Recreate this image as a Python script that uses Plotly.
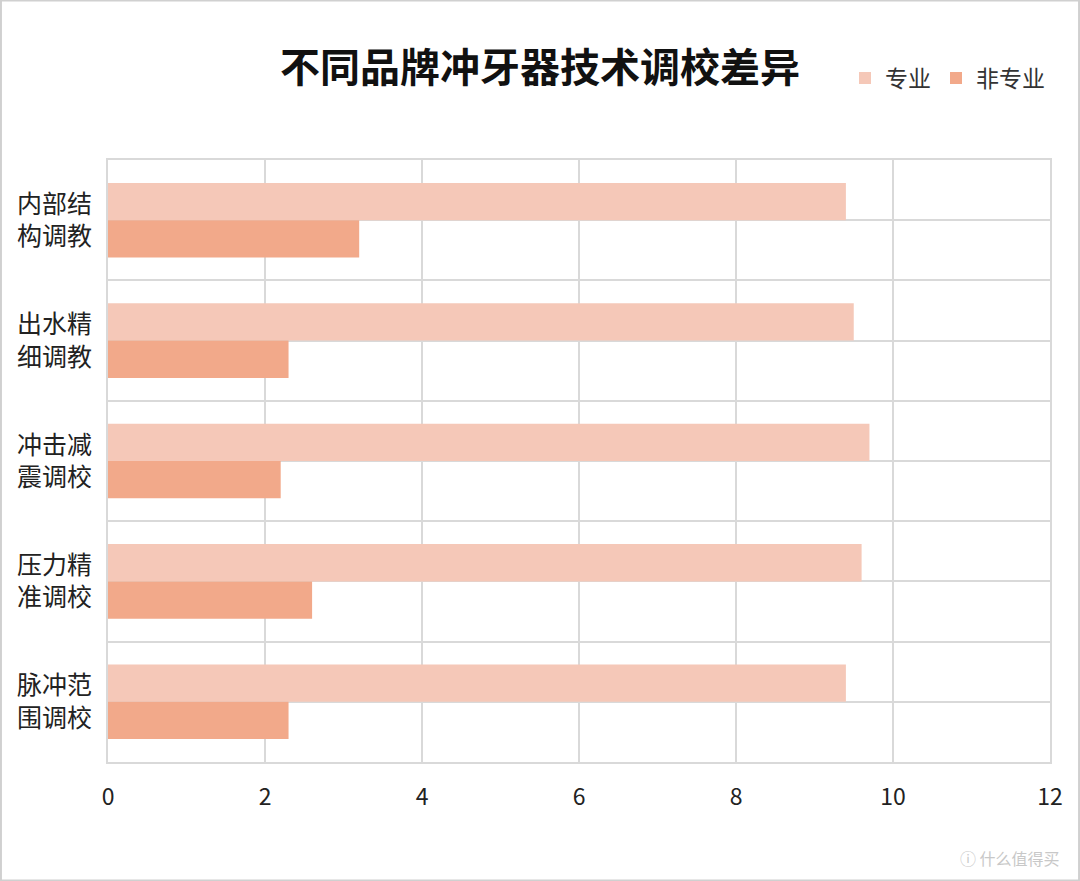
import plotly.graph_objects as go

categories = ["内部结<br>构调教", "出水精<br>细调教", "冲击减<br>震调校", "压力精<br>准调校", "脉冲范<br>围调校"]
pro_values = [9.4, 9.5, 9.7, 9.6, 9.4]
amateur_values = [3.2, 2.3, 2.2, 2.6, 2.3]
series_names = ["专业", "非专业"]
x_ticks = [0, 2, 4, 6, 8, 10, 12]

FONT = "Noto Sans CJK SC"
GRID = "#d9d9d9"

# plot area in pixels, used to place page-level decorations
W, H = 1080, 881
L, R, T, B = 108, 30, 160, 119
pw, ph = W - L - R, H - T - B

fig = go.Figure()

fig.add_trace(go.Bar(
    y=categories, x=pro_values, orientation="h",
    name=series_names[0], marker=dict(color="#F5C8B8", line_width=0),
))
fig.add_trace(go.Bar(
    y=categories, x=amateur_values, orientation="h",
    name=series_names[1], marker=dict(color="#F2A98A", line_width=0),
))

fig.update_layout(
    width=W, height=H,
    margin=dict(l=L, r=R, t=T, b=B),
    paper_bgcolor="white",
    plot_bgcolor="white",
    barmode="group",
    bargap=0.38,
    bargroupgap=0,
    font=dict(family=FONT, color="#222222"),
    title=dict(
        text="<b>不同品牌冲牙器技术调校差异</b>",
        x=0.5, xref="container", xanchor="center",
        y=1 - 68 / H, yref="container", yanchor="middle",
        font=dict(size=40, color="#111111", family=FONT),
    ),
    legend=dict(
        orientation="h",
        x=1.0, xanchor="right",
        y=1 + (T - 78) / ph, yanchor="middle",
        font=dict(size=23, color="#333333"),
        itemwidth=30,
        traceorder="normal",
    ),
    xaxis=dict(
        range=[0, 12], tickvals=x_ticks,
        showgrid=True, gridcolor=GRID, gridwidth=2,
        zeroline=False,
        showline=True, linecolor=GRID, linewidth=2, mirror=True,
        tickfont=dict(size=23, color="#222222"),
        ticklabelstandoff=13,
        ticks="",
    ),
    yaxis=dict(
        type="category",
        categoryarray=categories,
        range=[len(categories) - 0.5, -0.5],
        showgrid=True, gridcolor=GRID, gridwidth=2,
        tickson="boundaries",
        showline=True, linecolor=GRID, linewidth=2, mirror=True,
        tickfont=dict(size=25, color="#222222"),
        ticklabelstandoff=9,
        ticks="",
    ),
    yaxis2=dict(
        type="category",
        categoryarray=categories,
        range=[len(categories) - 0.5, -0.5],
        overlaying="y",
        showgrid=True, gridcolor=GRID, gridwidth=2,
        showticklabels=False, ticks="",
        layer="below traces",
    ),
)

# invisible trace so the overlay axis is drawn with centre gridlines
fig.add_trace(go.Scatter(
    y=categories, x=[0] * len(categories), yaxis="y2",
    mode="markers", marker=dict(opacity=0), showlegend=False, hoverinfo="skip",
))

# light frame round the whole image
fig.add_shape(
    type="rect", xref="paper", yref="paper",
    x0=-L / pw + 0.001, x1=(W - L) / pw - 0.001,
    y0=-B / ph + 0.001, y1=1 + T / ph - 0.001,
    line=dict(color="#d0d0d0", width=2), fillcolor="rgba(0,0,0,0)",
    layer="below",
)

# watermark
fig.add_annotation(
    text="ⓘ 什么值得买", xref="paper", yref="paper",
    x=(W - 18 - L) / pw, xanchor="right",
    y=-(858 - T - ph) / ph, yanchor="middle",
    showarrow=False, font=dict(size=16, color="#c8c8c8"),
)

# drop the browser's default page margin so the figure sits at the corner
fig.write_html(
    "out.html",
    config={"displayModeBar": False},
    post_script="document.body.style.margin='0';",
)
